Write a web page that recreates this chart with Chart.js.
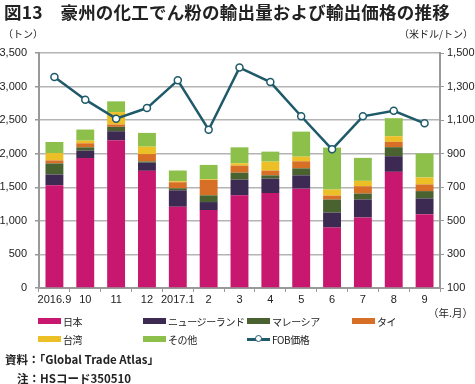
<!DOCTYPE html>
<html><head><meta charset="utf-8">
<script src="https://cdn.jsdelivr.net/npm/chart.js@4/dist/chart.umd.min.js"></script>
<style>
html,body{margin:0;padding:0;background:#fff;}
body{width:475px;height:384px;position:relative;overflow:hidden;font-family:"Liberation Sans","Noto Sans CJK JP",sans-serif;color:#222;}
#wrap{position:absolute;left:0;top:0;width:475px;height:384px;}
.t{position:absolute;white-space:nowrap;}
#title{left:4px;top:-1px;font-size:17.5px;font-weight:bold;font-family:"Noto Sans CJK JP",sans-serif;color:#222;letter-spacing:0.2px;}
.unit{font-size:10px;font-family:"Noto Sans CJK JP",sans-serif;}
.lg{position:absolute;font-size:10px;letter-spacing:-0.4px;font-family:"Noto Sans CJK JP","Liberation Sans",sans-serif;white-space:nowrap;}
.sw{position:absolute;width:23px;height:6px;}
.src{font-size:11.5px;font-family:"Noto Sans CJK JP","Liberation Sans",sans-serif;font-weight:bold;color:#222;}
</style></head>
<body>
<div id="wrap"><canvas id="c" width="475" height="384"></canvas></div>
<div class="t" id="title">図13　豪州の化工でん粉の輸出量および輸出価格の推移</div>
<div class="t unit" style="left:3px;top:26px;">（トン）</div>
<div class="t unit" style="right:2px;top:26px;">（米ドル/トン）</div>
<div class="t unit" style="right:2px;top:305px;font-size:10.5px;">（年.月）</div>
<div id="legend"></div>
<div class="t src" style="left:5px;top:351px;">資料：「Global Trade Atlas」</div>
<div class="t src" style="left:17px;top:370px;">注：HSコード350510</div>
<script>
const categories = ['2016.9','10','11','12','2017.1','2','3','4','5','6','7','8','9'];
const japan     = [1530,1935,2200,1745,1210,1160,1380,1415,1480, 900,1050,1730,1100];
const newZealand= [ 160, 110, 135, 120, 245, 120, 234, 214, 198, 223, 268, 233, 234];
const malaysia  = [ 165,  50,  65,  20,  30, 100, 104,  49, 104, 194,  89, 134, 109];
const thailand  = [  45,  60,  35, 110,  90, 230, 104,  70, 105,  59, 109,  80,  99];
const taiwan    = [ 110,  40, 185, 110,  15,  10,  35, 134,  69,  90,  80,  84, 104];
const others    = [ 165, 165, 160, 205, 160, 213, 238, 149, 373, 625, 342, 268, 358];
const fobPrice  = [1357,1222,1109,1172,1337,1043,1413,1327,1123, 926,1123,1156,1081];
const leftTicks = [0,500,1000,1500,2000,2500,3000,3500];
const rightTicks= [100,300,500,700,900,1100,1300,1500];

const seriesNames = ['日本','ニュージーランド','マレーシア','タイ','台湾','その他','FOB価格'];
const colors = ['#C8176E','#3D2A52','#4A6230','#D86F27','#EDBF26','#8CC04B','#1E5A6A'];
const barData = [japan,newZealand,malaysia,thailand,taiwan,others];

const datasets = barData.map((d,i)=>({
  type:'bar', label:seriesNames[i], data:d, backgroundColor:colors[i],
  yAxisID:'y', stack:'s', order:2, barPercentage:0.58, categoryPercentage:1.0,
  borderWidth:0
}));
datasets.push({
  type:'line', label:seriesNames[6], data:fobPrice, yAxisID:'y1', order:1,
  borderColor:colors[6], borderWidth:2.5, pointRadius:3.5, pointBackgroundColor:'#fff',
  pointBorderColor:colors[6], pointBorderWidth:1.5, tension:0
});

const fnt = {family:'"Liberation Sans", Arial, sans-serif', size:11};
new Chart(document.getElementById('c'),{
  data:{labels:categories, datasets},
  options:{
    responsive:false, animation:false,
    layout:{padding:{top:53, bottom:66, left:0, right:0}},
    plugins:{legend:{display:false}, tooltip:{enabled:false}},
    scales:{
      x:{
        stacked:true, offset:true,
        grid:{display:true, drawOnChartArea:false, drawTicks:true, tickLength:4, color:'#999', offset:true},
        border:{display:true, color:'#999', width:2},
        ticks:{color:'#222', font:fnt, padding:1, maxRotation:0, autoSkip:false},
        afterFit:(s)=>{s.height=30;}
      },
      y:{
        stacked:true, position:'left', min:0, max:3500,
        afterBuildTicks:(s)=>{s.ticks=leftTicks.map(v=>({value:v}));},
        grid:{color:'#b4b4b4', lineWidth:1.5, tickLength:4, tickColor:'#999'},
        border:{color:'#999', width:2},
        ticks:{color:'#222', font:fnt, padding:8, callback:(v)=>v.toLocaleString('en-US')},
        afterFit:(s)=>{s.width=39;}
      },
      y1:{
        position:'right', min:100, max:1500,
        afterBuildTicks:(s)=>{s.ticks=rightTicks.map(v=>({value:v}));},
        grid:{drawOnChartArea:false, tickLength:4, color:'#999'},
        border:{color:'#999', width:2},
        ticks:{color:'#222', font:fnt, padding:3, callback:(v)=>v.toLocaleString('en-US')},
        afterFit:(s)=>{s.width=35;}
      }
    }
  }
});

// HTML legend built from the series names/colors
const lg = document.getElementById('legend');
const pos = [[38,317],[143,317],[247,317],[352,317],[38,335],[143,335],[247,335]];
seriesNames.forEach((n,i)=>{
  const [x,y]=pos[i];
  if(i<6){
    const s=document.createElement('div'); s.className='sw';
    s.style.left=x+'px'; s.style.top=(y+1)+'px'; s.style.background=colors[i]; lg.appendChild(s);
  } else {
    const s=document.createElement('div'); s.className='sw';
    s.style.left=x+'px'; s.style.top=(y+3)+'px'; s.style.height='2.5px'; s.style.background=colors[i]; lg.appendChild(s);
    const c=document.createElement('div'); c.style.position='absolute';
    c.style.left=(x+8)+'px'; c.style.top=(y)+'px'; c.style.width='5px'; c.style.height='5px';
    c.style.border='1.5px solid '+colors[i]; c.style.borderRadius='50%'; c.style.background='#fff'; lg.appendChild(c);
  }
  const t=document.createElement('div'); t.className='lg'; t.textContent=n;
  t.style.left=(x+25)+'px'; t.style.top=(y-3)+'px'; lg.appendChild(t);
});
</script>
</body></html>
